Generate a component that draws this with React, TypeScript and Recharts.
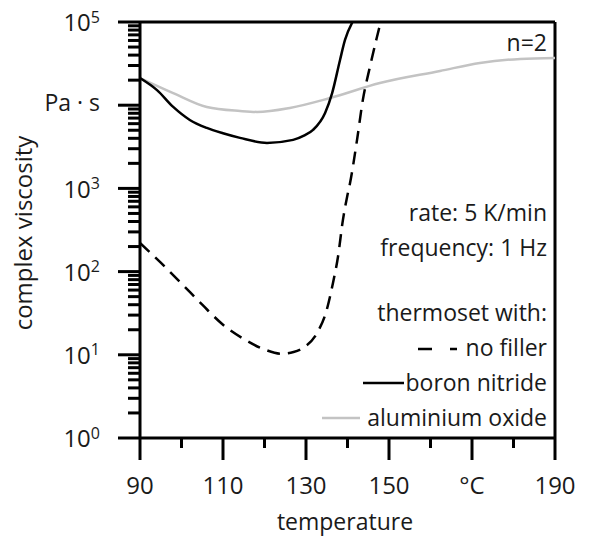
import { LineChart, Line, XAxis, YAxis, ReferenceLine, Label } from 'recharts'

const FONT = '"Open Sans", "Noto Sans", sans-serif'
const INK = '#1a1a1a'
const GRAY = '#c3c3c3'

// temperature axis (°C)
const xTicks = [90, 100, 110, 120, 130, 140, 150, 160, 170, 180, 190]
const xLabels: Record<number, string> = { 90: '90', 110: '110', 130: '130', 150: '150', 170: '°C', 190: '190' }

// viscosity axis: decades 10^0 .. 10^5, with minor ticks 2..9
const yDecades = [0, 1, 2, 3, 4, 5]

// thermoset with no filler (dashed)
const noFillerT = [90, 95, 100, 105, 110, 115, 120, 124, 127, 129.5, 132.7, 135, 136.5, 137.7, 138.9, 139.9, 140.6, 142.3, 143.7, 145.4, 147.1, 148]
const noFillerV = [221, 128, 72, 40, 23, 15.5, 11.6, 10.3, 10.8, 12.3, 18.4, 34.7, 73, 150, 419, 790, 1150, 3830, 11600, 28800, 66100, 100000]

// boron nitride (solid black)
const boronT = [90, 94.1, 98, 102, 106.1, 110, 114.1, 120.6, 126.9, 129.5, 131.7, 134.6, 136.3, 138.2, 139.4, 141.2]
const boronV = [21200, 15200, 9530, 6650, 5330, 4600, 4050, 3520, 3830, 4300, 5050, 8070, 14000, 35000, 60800, 100000]

// aluminium oxide (solid gray)
const aluT = [90, 98, 106.1, 114.1, 118.2, 126.1, 135.8, 147.8, 162.3, 171.9, 181.6, 190]
const aluV = [21200, 14000, 9530, 8530, 8300, 9270, 12200, 18500, 25800, 32200, 36000, 37000]

const zip = (ts: number[], vs: number[]) => ts.map((t, i) => ({ t, v: vs[i] }))
const noFiller = zip(noFillerT, noFillerV)
const boron = zip(boronT, boronV)
const alu = zip(aluT, aluV)

const yTicks: number[] = []
yDecades.forEach((d) => {
  if (d === 5) { yTicks.push(1e5); return }
  for (let m = 1; m <= 9; m++) yTicks.push(m * Math.pow(10, d))
})

function YTick({ x, y, payload }: any) {
  const lg = Math.log10(payload.value)
  const e = Math.round(lg)
  const major = Math.abs(lg - e) < 1e-6
  if (!major) {
    return <line x1={x - 12} x2={x} y1={y} y2={y} stroke="#000" strokeWidth={3} />
  }
  return (
    <g>
      <line x1={x - 22} x2={x} y1={y} y2={y} stroke="#000" strokeWidth={3} />
      {e === 4 ? (
        <text x={x - 40} y={y - 2} dy="0.35em" textAnchor="end" fontFamily={FONT} fontSize={23} fill={INK}>
          Pa · s
        </text>
      ) : (
        <text x={x - 40} y={y + 1} textAnchor="end" fontFamily={FONT} fontSize={24} fill={INK}>
          <tspan dy="0.35em">10</tspan>
          <tspan dy="-0.55em" fontSize={16}>{e}</tspan>
        </text>
      )}
    </g>
  )
}

function XTick({ x, y, payload }: any) {
  const label = xLabels[payload.value]
  if (label === undefined) {
    return <line x1={x} x2={x} y1={y} y2={y + 10} stroke="#000" strokeWidth={3} />
  }
  return (
    <g>
      <line x1={x} x2={x} y1={y} y2={y + 22} stroke="#000" strokeWidth={3} />
      <text x={x} y={y + 48} dy="0.35em" textAnchor="middle" fontFamily={FONT} fontSize={24} fill={INK}>
        {label}
      </text>
    </g>
  )
}

function Notes() {
  const t = { fontFamily: FONT, fontSize: 23, fill: INK, textAnchor: 'end' as const, dy: '0.35em' }
  return (
    <svg width={590} height={536} style={{ position: 'absolute', left: 0, top: 0, pointerEvents: 'none' }}>
      <text x={547} y={43} {...t}>n=2</text>
      <text x={547} y={213} {...t}>rate: 5 K/min</text>
      <text x={547} y={248} {...t}>frequency: 1 Hz</text>
      <text x={547} y={313} {...t}>thermoset with:</text>
      <line x1={418} x2={457} y1={349} y2={349} stroke="#000" strokeWidth={2.5} strokeDasharray="14 18" />
      <text x={547} y={348} {...t}>no filler</text>
      <line x1={363} x2={404} y1={383} y2={383} stroke="#000" strokeWidth={2.5} />
      <text x={547} y={383} {...t}>boron nitride</text>
      <line x1={322} x2={360} y1={418} y2={418} stroke={GRAY} strokeWidth={2.5} />
      <text x={547} y={418} {...t}>aluminium oxide</text>
    </svg>
  )
}

export default function App() {
  return (
    <div style={{ position: 'absolute', left: 0, top: 0, width: 590, height: 536, background: '#fff' }}>
      <LineChart width={590} height={536} margin={{ top: 22, right: 35, bottom: 0, left: 0 }}>
        <XAxis
          type="number"
          dataKey="t"
          domain={[90, 190]}
          ticks={xTicks}
          interval={0}
          height={98}
          allowDataOverflow
          axisLine={{ stroke: '#000', strokeWidth: 3 }}
          tickLine={false}
          tickSize={0}
          tickMargin={0}
          tick={<XTick />}
        >
          <Label
            value="temperature"
            content={() => (
              <text x={345} y={522} dy="0.35em" textAnchor="middle" fontFamily={FONT} fontSize={23} fill={INK}>
                temperature
              </text>
            )}
          />
        </XAxis>
        <YAxis
          type="number"
          scale="log"
          domain={[1, 100000]}
          ticks={yTicks}
          interval={0}
          width={140}
          allowDataOverflow
          axisLine={{ stroke: '#000', strokeWidth: 3 }}
          tickLine={false}
          tickSize={0}
          tickMargin={0}
          tick={<YTick />}
        >
          <Label
            value="complex viscosity"
            content={() => (
              <text
                x={24}
                y={233}
                dy="0.35em"
                textAnchor="middle"
                transform="rotate(-90 24 233)"
                fontFamily={FONT}
                fontSize={24}
                fill={INK}
              >
                complex viscosity
              </text>
            )}
          />
        </YAxis>
        <ReferenceLine y={100000} stroke="#000" strokeWidth={3} />
        <ReferenceLine x={190} stroke="#000" strokeWidth={3} />
        <Line data={alu} dataKey="v" type="monotone" stroke={GRAY} strokeWidth={2.5} dot={false} isAnimationActive={false} />
        <Line data={boron} dataKey="v" type="monotone" stroke="#000" strokeWidth={2.5} dot={false} isAnimationActive={false} />
        <Line
          data={noFiller}
          dataKey="v"
          type="monotone"
          stroke="#000"
          strokeWidth={2.5}
          strokeDasharray="13 8"
          dot={false}
          isAnimationActive={false}
        />
      </LineChart>
      <Notes />
    </div>
  )
}
